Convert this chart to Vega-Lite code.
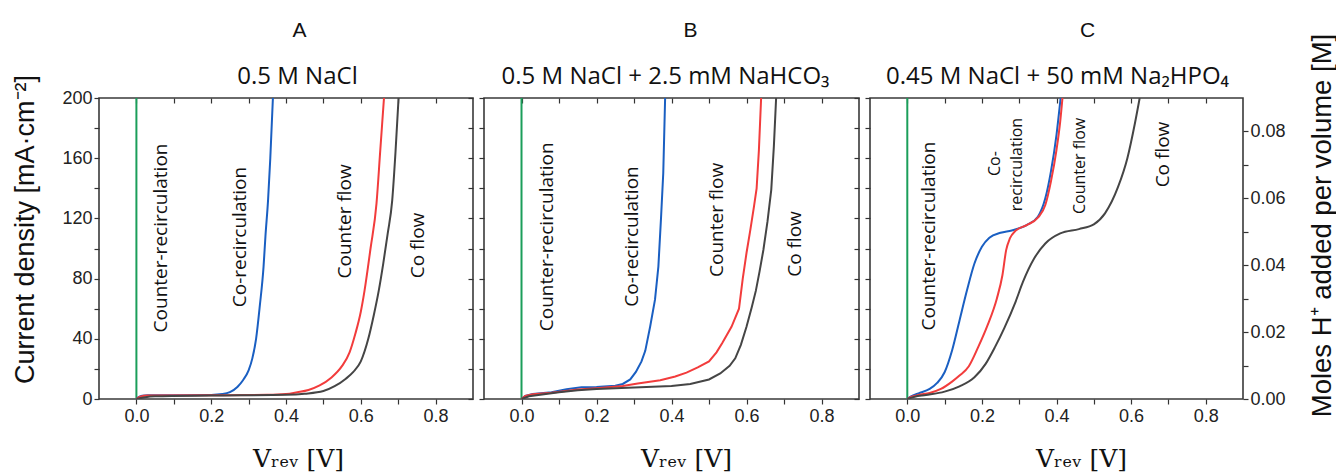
{
"$schema": "https://vega.github.io/schema/vega-lite/v6.json",
"padding": {"left": 11, "top": 18, "right": 0, "bottom": 0},
"spacing": 11,
"bounds": "flush",
"datasets": {
"A": [
{"s":"Co-recirculation","V":0,"J":0},{"s":"Co-recirculation","V":0.005,"J":1.2},{"s":"Co-recirculation","V":0.015,"J":2.2},{"s":"Co-recirculation","V":0.03,"J":2.5},{"s":"Co-recirculation","V":0.1,"J":2.5},{"s":"Co-recirculation","V":0.2,"J":2.7},{"s":"Co-recirculation","V":0.23,"J":3.3},{"s":"Co-recirculation","V":0.25,"J":4.6},{"s":"Co-recirculation","V":0.27,"J":8},{"s":"Co-recirculation","V":0.285,"J":12.5},{"s":"Co-recirculation","V":0.3,"J":19},{"s":"Co-recirculation","V":0.31,"J":27},{"s":"Co-recirculation","V":0.32,"J":40},{"s":"Co-recirculation","V":0.33,"J":62},{"s":"Co-recirculation","V":0.34,"J":88},{"s":"Co-recirculation","V":0.345,"J":108},{"s":"Co-recirculation","V":0.352,"J":132},{"s":"Co-recirculation","V":0.358,"J":160},{"s":"Co-recirculation","V":0.365,"J":200},
{"s":"Counter flow","V":0,"J":0},{"s":"Counter flow","V":0.01,"J":1.5},{"s":"Counter flow","V":0.03,"J":2.3},{"s":"Counter flow","V":0.2,"J":2.5},{"s":"Counter flow","V":0.35,"J":2.8},{"s":"Counter flow","V":0.4,"J":3.3},{"s":"Counter flow","V":0.43,"J":4.5},{"s":"Counter flow","V":0.46,"J":6},{"s":"Counter flow","V":0.49,"J":9},{"s":"Counter flow","V":0.52,"J":14},{"s":"Counter flow","V":0.55,"J":22},{"s":"Counter flow","V":0.57,"J":31},{"s":"Counter flow","V":0.585,"J":43},{"s":"Counter flow","V":0.6,"J":58},{"s":"Counter flow","V":0.61,"J":72},{"s":"Counter flow","V":0.626,"J":100},{"s":"Counter flow","V":0.642,"J":130},{"s":"Counter flow","V":0.652,"J":165},{"s":"Counter flow","V":0.662,"J":200},
{"s":"Co flow","V":0,"J":0},{"s":"Co flow","V":0.02,"J":1},{"s":"Co flow","V":0.05,"J":1.8},{"s":"Co flow","V":0.2,"J":2.3},{"s":"Co flow","V":0.4,"J":2.8},{"s":"Co flow","V":0.45,"J":3.5},{"s":"Co flow","V":0.5,"J":5.3},{"s":"Co flow","V":0.53,"J":8.5},{"s":"Co flow","V":0.56,"J":13.5},{"s":"Co flow","V":0.58,"J":18},{"s":"Co flow","V":0.6,"J":25},{"s":"Co flow","V":0.62,"J":40},{"s":"Co flow","V":0.635,"J":56},{"s":"Co flow","V":0.648,"J":72},{"s":"Co flow","V":0.66,"J":90},{"s":"Co flow","V":0.672,"J":110},{"s":"Co flow","V":0.684,"J":132},{"s":"Co flow","V":0.693,"J":165},{"s":"Co flow","V":0.701,"J":200}
],
"B": [
{"s":"Co-recirculation","V":0,"J":0},{"s":"Co-recirculation","V":0.01,"J":2},{"s":"Co-recirculation","V":0.03,"J":3.3},{"s":"Co-recirculation","V":0.08,"J":4.5},{"s":"Co-recirculation","V":0.12,"J":6.5},{"s":"Co-recirculation","V":0.16,"J":7.8},{"s":"Co-recirculation","V":0.2,"J":8},{"s":"Co-recirculation","V":0.25,"J":8.8},{"s":"Co-recirculation","V":0.27,"J":10},{"s":"Co-recirculation","V":0.29,"J":13},{"s":"Co-recirculation","V":0.305,"J":18},{"s":"Co-recirculation","V":0.32,"J":25},{"s":"Co-recirculation","V":0.33,"J":32},{"s":"Co-recirculation","V":0.343,"J":48},{"s":"Co-recirculation","V":0.356,"J":66},{"s":"Co-recirculation","V":0.365,"J":88},{"s":"Co-recirculation","V":0.372,"J":120},{"s":"Co-recirculation","V":0.378,"J":150},{"s":"Co-recirculation","V":0.383,"J":200},
{"s":"Counter flow","V":0,"J":0},{"s":"Counter flow","V":0.01,"J":2},{"s":"Counter flow","V":0.03,"J":3.2},{"s":"Counter flow","V":0.08,"J":4.2},{"s":"Counter flow","V":0.15,"J":6.3},{"s":"Counter flow","V":0.2,"J":7.2},{"s":"Counter flow","V":0.27,"J":8.6},{"s":"Counter flow","V":0.31,"J":10.3},{"s":"Counter flow","V":0.37,"J":12.5},{"s":"Counter flow","V":0.41,"J":15},{"s":"Counter flow","V":0.44,"J":17.5},{"s":"Counter flow","V":0.47,"J":21},{"s":"Counter flow","V":0.5,"J":25},{"s":"Counter flow","V":0.52,"J":31},{"s":"Counter flow","V":0.535,"J":37},{"s":"Counter flow","V":0.56,"J":48},{"s":"Counter flow","V":0.58,"J":60},{"s":"Counter flow","V":0.59,"J":80},{"s":"Counter flow","V":0.6,"J":97},{"s":"Counter flow","V":0.61,"J":112},{"s":"Counter flow","V":0.62,"J":128},{"s":"Counter flow","V":0.627,"J":140},{"s":"Counter flow","V":0.633,"J":165},{"s":"Counter flow","V":0.639,"J":200},
{"s":"Co flow","V":0,"J":0},{"s":"Co flow","V":0.02,"J":1.8},{"s":"Co flow","V":0.05,"J":2.8},{"s":"Co flow","V":0.1,"J":4.5},{"s":"Co flow","V":0.15,"J":5.8},{"s":"Co flow","V":0.2,"J":6.6},{"s":"Co flow","V":0.3,"J":7.6},{"s":"Co flow","V":0.4,"J":8.6},{"s":"Co flow","V":0.45,"J":10},{"s":"Co flow","V":0.5,"J":13},{"s":"Co flow","V":0.53,"J":17},{"s":"Co flow","V":0.555,"J":22},{"s":"Co flow","V":0.57,"J":27},{"s":"Co flow","V":0.585,"J":36},{"s":"Co flow","V":0.6,"J":48},{"s":"Co flow","V":0.614,"J":61},{"s":"Co flow","V":0.625,"J":72},{"s":"Co flow","V":0.635,"J":85},{"s":"Co flow","V":0.645,"J":99},{"s":"Co flow","V":0.656,"J":118},{"s":"Co flow","V":0.666,"J":139},{"s":"Co flow","V":0.673,"J":168},{"s":"Co flow","V":0.679,"J":200}
],
"C": [
{"s":"Co-recirculation","V":0,"M":0},{"s":"Co-recirculation","V":0.01,"M":0.0008},{"s":"Co-recirculation","V":0.03,"M":0.0017},{"s":"Co-recirculation","V":0.06,"M":0.003},{"s":"Co-recirculation","V":0.08,"M":0.0048},{"s":"Co-recirculation","V":0.1,"M":0.008},{"s":"Co-recirculation","V":0.12,"M":0.0145},{"s":"Co-recirculation","V":0.14,"M":0.0235},{"s":"Co-recirculation","V":0.16,"M":0.0325},{"s":"Co-recirculation","V":0.18,"M":0.0405},{"s":"Co-recirculation","V":0.2,"M":0.0455},{"s":"Co-recirculation","V":0.22,"M":0.0482},{"s":"Co-recirculation","V":0.25,"M":0.0497},{"s":"Co-recirculation","V":0.28,"M":0.0504},{"s":"Co-recirculation","V":0.32,"M":0.052},{"s":"Co-recirculation","V":0.35,"M":0.0545},{"s":"Co-recirculation","V":0.37,"M":0.06},{"s":"Co-recirculation","V":0.385,"M":0.068},{"s":"Co-recirculation","V":0.4,"M":0.079},{"s":"Co-recirculation","V":0.411,"M":0.09},
{"s":"Counter flow","V":0,"M":0},{"s":"Counter flow","V":0.01,"M":0.0006},{"s":"Counter flow","V":0.03,"M":0.0012},{"s":"Counter flow","V":0.06,"M":0.0018},{"s":"Counter flow","V":0.09,"M":0.003},{"s":"Counter flow","V":0.12,"M":0.0052},{"s":"Counter flow","V":0.14,"M":0.007},{"s":"Counter flow","V":0.165,"M":0.0098},{"s":"Counter flow","V":0.19,"M":0.0155},{"s":"Counter flow","V":0.215,"M":0.022},{"s":"Counter flow","V":0.24,"M":0.03},{"s":"Counter flow","V":0.255,"M":0.037},{"s":"Counter flow","V":0.265,"M":0.0445},{"s":"Counter flow","V":0.275,"M":0.048},{"s":"Counter flow","V":0.29,"M":0.0503},{"s":"Counter flow","V":0.32,"M":0.052},{"s":"Counter flow","V":0.35,"M":0.0542},{"s":"Counter flow","V":0.37,"M":0.058},{"s":"Counter flow","V":0.385,"M":0.065},{"s":"Counter flow","V":0.4,"M":0.0745},{"s":"Counter flow","V":0.41,"M":0.083},{"s":"Counter flow","V":0.416,"M":0.09},
{"s":"Co flow","V":0,"M":0},{"s":"Co flow","V":0.02,"M":0.0007},{"s":"Co flow","V":0.05,"M":0.0012},{"s":"Co flow","V":0.1,"M":0.0022},{"s":"Co flow","V":0.14,"M":0.0038},{"s":"Co flow","V":0.18,"M":0.0065},{"s":"Co flow","V":0.21,"M":0.0105},{"s":"Co flow","V":0.235,"M":0.0155},{"s":"Co flow","V":0.26,"M":0.0212},{"s":"Co flow","V":0.29,"M":0.029},{"s":"Co flow","V":0.31,"M":0.035},{"s":"Co flow","V":0.34,"M":0.042},{"s":"Co flow","V":0.37,"M":0.0465},{"s":"Co flow","V":0.41,"M":0.0495},{"s":"Co flow","V":0.46,"M":0.0508},{"s":"Co flow","V":0.5,"M":0.0522},{"s":"Co flow","V":0.53,"M":0.0555},{"s":"Co flow","V":0.565,"M":0.0634},{"s":"Co flow","V":0.59,"M":0.072},{"s":"Co flow","V":0.61,"M":0.0823},{"s":"Co flow","V":0.623,"M":0.09}
],
"At": [
{"V":0.067,"J":107,"t":"Counter-recirculation"},{"V":0.276,"J":107.6,"t":"Co-recirculation"},{"V":0.557,"J":118,"t":"Counter flow"},{"V":0.753,"J":102,"t":"Co flow"}
],
"Bt": [
{"V":0.067,"J":107.8,"t":"Counter-recirculation"},{"V":0.294,"J":108,"t":"Co-recirculation"},{"V":0.521,"J":119,"t":"Counter flow"},{"V":0.73,"J":103,"t":"Co flow"}
],
"Ct": [
{"V":0.057,"M":0.0487,"t":"Counter-recirculation"},{"V":0.235,"M":0.0704,"t":"Co-"},{"V":0.293,"M":0.0701,"t":"recirculation"},{"V":0.462,"M":0.0697,"t":"Counter flow"},{"V":0.685,"M":0.0731,"t":"Co flow"}
],
"G": [{"V":0,"J":0},{"V":0,"J":200}]
},
"hconcat": [
{
"width": 374, "height": 301,
"layer": [
{"data":{"name":"G"},"mark":{"type":"line","color":"#1b9e5a","strokeWidth":2},
"encoding":{
"x":{"field":"V","type":"quantitative","scale":{"domain":[-0.1,0.9],"nice":false,"zero":false},"axis":{"orient":"bottom","values":[0,0.1,0.2,0.3,0.4,0.5,0.6,0.7,0.8],"labelExpr":"round(datum.value*10) % 2 == 0 ? format(datum.value, '.1f') : ''","labelPadding":3,"title":"Vᵣₑᵥ [V]","titleFont":"DejaVu Serif","titleFontSize":25,"titleFontWeight":"normal","titlePadding":21,"titleX":199}},
"y":{"field":"J","type":"quantitative","scale":{"domain":[0,200],"nice":false},"axis":{"orient":"left","values":[0,20,40,60,80,100,120,140,160,180,200],"labelExpr":"datum.value % 40 == 0 ? datum.label : ''","labelPadding":2,"title":"Current density [mA·cm⁻²]","titleFont":"Liberation Sans","titleFontSize":27,"titleFontWeight":"normal","titlePadding":22,"titleY":131}}
}},
{"data":{"name":"A"},"mark":{"type":"line","interpolate":"monotone","strokeWidth":2,"clip":true},
"encoding":{
"x":{"field":"V","type":"quantitative","scale":{"domain":[-0.1,0.9],"nice":false,"zero":false},"axis":{"orient":"top","values":[0,0.1,0.2,0.3,0.4,0.5,0.6,0.7,0.8],"labels":false,"tickSize":-5,"title":"0.5 M NaCl","titleFont":"Open Sans","titleFontSize":24,"titleFontWeight":"normal","titleBaseline":"alphabetic","titleX":198,"titleY":-15}},
"y":{"field":"J","type":"quantitative","scale":{"domain":[0,200],"nice":false},"axis":{"orient":"right","values":[0,20,40,60,80,100,120,140,160,180,200],"labels":false,"tickSize":-5,"title":null}},
"color":{"field":"s","type":"nominal","scale":{"domain":["Co-recirculation","Counter flow","Co flow"],"range":["#1a5fc2","#f23c3c","#454545"]},"legend":null}
}},
{"data":{"name":"At"},"mark":{"type":"text","angle":270,"fontSize":19,"font":"Open Sans","color":"#111"},
"encoding":{"x":{"field":"V","type":"quantitative","axis":{"orient":"top","ticks":false,"labels":false,"title":"A","titleFont":"Liberation Sans","titleFontSize":21,"titleFontWeight":"normal","titleBaseline":"alphabetic","titleX":200,"titleY":-62}},"y":{"field":"J","type":"quantitative","axis":null},"text":{"field":"t"}}}
],
"resolve":{"axis":{"x":"independent","y":"independent"}}
},
{
"width": 375, "height": 301,
"layer": [
{"data":{"name":"G"},"mark":{"type":"line","color":"#1b9e5a","strokeWidth":2},
"encoding":{
"x":{"field":"V","type":"quantitative","scale":{"domain":[-0.1,0.9],"nice":false,"zero":false},"axis":{"orient":"bottom","values":[0,0.1,0.2,0.3,0.4,0.5,0.6,0.7,0.8],"labelExpr":"round(datum.value*10) % 2 == 0 ? format(datum.value, '.1f') : ''","labelPadding":3,"title":"Vᵣₑᵥ [V]","titleFont":"DejaVu Serif","titleFontSize":25,"titleFontWeight":"normal","titlePadding":21,"titleX":202}},
"y":{"field":"J","type":"quantitative","scale":{"domain":[0,200],"nice":false},"axis":{"orient":"left","values":[0,20,40,60,80,100,120,140,160,180,200],"labels":false,"title":null}}
}},
{"data":{"name":"B"},"mark":{"type":"line","strokeWidth":2,"clip":true},
"encoding":{
"x":{"field":"V","type":"quantitative","scale":{"domain":[-0.1,0.9],"nice":false,"zero":false},"axis":{"orient":"top","values":[0,0.1,0.2,0.3,0.4,0.5,0.6,0.7,0.8],"labels":false,"tickSize":-5,"title":"0.5 M NaCl + 2.5 mM NaHCO₃","titleFont":"Open Sans","titleFontSize":24,"titleFontWeight":"normal","titleBaseline":"alphabetic","titleX":181,"titleY":-15}},
"y":{"field":"J","type":"quantitative","scale":{"domain":[0,200],"nice":false},"axis":{"orient":"right","values":[0,20,40,60,80,100,120,140,160,180,200],"labels":false,"tickSize":-5,"title":null}},
"color":{"field":"s","type":"nominal","scale":{"domain":["Co-recirculation","Counter flow","Co flow"],"range":["#1a5fc2","#f23c3c","#454545"]},"legend":null}
}},
{"data":{"name":"Bt"},"mark":{"type":"text","angle":270,"fontSize":19,"font":"Open Sans","color":"#111"},
"encoding":{"x":{"field":"V","type":"quantitative","axis":{"orient":"top","ticks":false,"labels":false,"title":"B","titleFont":"Liberation Sans","titleFontSize":21,"titleFontWeight":"normal","titleBaseline":"alphabetic","titleX":206,"titleY":-62}},"y":{"field":"J","type":"quantitative","axis":null},"text":{"field":"t"}}}
],
"resolve":{"axis":{"x":"independent","y":"independent"}}
},
{
"width": 373, "height": 301,
"layer": [
{"data":{"name":"G"},"mark":{"type":"line","color":"#1b9e5a","strokeWidth":2},
"encoding":{
"x":{"field":"V","type":"quantitative","scale":{"domain":[-0.1,0.9],"nice":false,"zero":false},"axis":{"orient":"bottom","values":[0,0.1,0.2,0.3,0.4,0.5,0.6,0.7,0.8],"labelExpr":"round(datum.value*10) % 2 == 0 ? format(datum.value, '.1f') : ''","labelPadding":3,"title":"Vᵣₑᵥ [V]","titleFont":"DejaVu Serif","titleFontSize":25,"titleFontWeight":"normal","titlePadding":21,"titleX":211}},
"y":{"field":"J","type":"quantitative","scale":{"domain":[0,200],"nice":false},"axis":{"orient":"left","values":[0,20,40,60,80,100,120,140,160,180,200],"labels":false,"title":null}}
}},
{"data":{"name":"C"},"mark":{"type":"line","interpolate":"monotone","strokeWidth":2,"clip":true},
"encoding":{
"x":{"field":"V","type":"quantitative","scale":{"domain":[-0.1,0.9],"nice":false,"zero":false},"axis":{"orient":"top","values":[0,0.1,0.2,0.3,0.4,0.5,0.6,0.7,0.8],"labels":false,"tickSize":-5,"title":"0.45 M NaCl + 50 mM Na₂HPO₄","titleFont":"Open Sans","titleFontSize":24,"titleFontWeight":"normal","titleBaseline":"alphabetic","titleX":187,"titleY":-15}},
"y":{"field":"M","type":"quantitative","scale":{"domain":[0,0.09],"nice":false},"axis":{"orient":"right","values":[0,0.01,0.02,0.03,0.04,0.05,0.06,0.07,0.08],"labelExpr":"round(datum.value*100) % 2 == 0 ? format(datum.value, '.2f') : ''","labelPadding":2,"title":"Moles H⁺ added per volume [M]","titleFont":"Liberation Sans","titleFontSize":27.5,"titleFontWeight":"normal","titleAngle":-90,"titleBaseline":"top","titlePadding":23,"titleY":127}},
"color":{"field":"s","type":"nominal","scale":{"domain":["Co-recirculation","Counter flow","Co flow"],"range":["#1a5fc2","#f23c3c","#454545"]},"legend":null}
}},
{"data":{"name":"Ct"},"transform":[{"filter":{"field":"t","oneOf":["Counter-recirculation","Co flow"]}}],"mark":{"type":"text","angle":270,"fontSize":19,"font":"Open Sans","color":"#111"},
"encoding":{"x":{"field":"V","type":"quantitative","axis":{"orient":"top","ticks":false,"labels":false,"title":"C","titleFont":"Liberation Sans","titleFontSize":21,"titleFontWeight":"normal","titleBaseline":"alphabetic","titleX":217,"titleY":-62}},"y":{"field":"M","type":"quantitative","scale":{"domain":[0,0.09],"nice":false},"axis":null},"text":{"field":"t"}}},
{"data":{"name":"Ct"},"transform":[{"filter":{"not":{"field":"t","oneOf":["Counter-recirculation","Co flow"]}}}],"mark":{"type":"text","angle":270,"fontSize":16,"font":"Open Sans","color":"#111"},
"encoding":{"x":{"field":"V","type":"quantitative","axis":null},"y":{"field":"M","type":"quantitative","scale":{"domain":[0,0.09],"nice":false},"axis":null},"text":{"field":"t"}}}
],
"resolve":{"axis":{"x":"independent","y":"independent"},"scale":{"y":"independent"}}
}
],
"config": {
"view": {"stroke":"#3a3a3a","strokeWidth":1.6},
"axis": {"domain":false,"grid":false,"tickColor":"#333","tickWidth":1.2,"tickSize":5,"labelFont":"Liberation Sans","labelFontSize":18,"labelColor":"#222","titleColor":"#111","titleFontWeight":"normal"}
}
}
